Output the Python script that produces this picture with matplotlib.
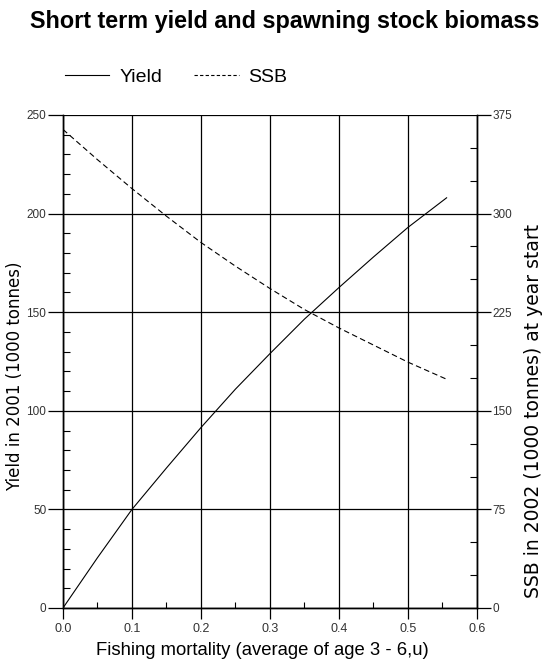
import matplotlib
matplotlib.use("Agg")
import matplotlib.pyplot as plt
from matplotlib.ticker import MultipleLocator
from matplotlib.lines import Line2D

# Fishing mortality (mean F, ages 3-6)
fbar = [0.0, 0.05, 0.10, 0.15, 0.20, 0.25, 0.30, 0.35, 0.40, 0.45, 0.50, 0.556]
# Yield in 2001 (1000 tonnes)
yield_2001 = [0, 25.5, 50, 71, 91.5, 111, 129, 146.5, 162.5, 178, 193, 208]
# SSB in 2002 at year start (1000 tonnes)
ssb_2002 = [364, 341, 319, 298, 278, 260, 243, 227, 213, 200, 187, 174]

x_ticks = [0.0, 0.1, 0.2, 0.3, 0.4, 0.5, 0.6]
yield_ticks = [0, 50, 100, 150, 200, 250]
ssb_ticks = [0, 75, 150, 225, 300, 375]

plt.rcParams["font.family"] = ["Liberation Sans", "DejaVu Sans"]

fig = plt.figure(figsize=(5.42, 6.62), dpi=100)
ax = fig.add_axes([0.1162, 0.0816, 0.7638, 0.7447])
ax2 = ax.twinx()

ax.plot(fbar, yield_2001, color="black", lw=0.8)
ax2.plot(fbar, ssb_2002, color="black", lw=0.8, ls=(0, (5, 3)))

ax.set_xlim(0, 0.6)
ax.set_ylim(0, 250)
ax2.set_ylim(0, 375)

ax.set_xticks(x_ticks)
ax.set_xticklabels([f"{v:.1f}" for v in x_ticks])
ax.set_yticks(yield_ticks)
ax2.set_yticks(ssb_ticks)
ax.xaxis.set_minor_locator(MultipleLocator(0.05))
ax.yaxis.set_minor_locator(MultipleLocator(10))
ax2.yaxis.set_minor_locator(MultipleLocator(25))

ax.grid(True, which="major", color="black", lw=0.9)
ax.set_axisbelow(True)

ax.tick_params(axis="y", which="major", direction="out", length=11, width=0.9,
               labelsize=8.5, pad=1, labelcolor="#333333")
ax.tick_params(axis="y", which="minor", direction="in", length=5, width=0.8)
ax.tick_params(axis="x", which="major", direction="out", length=8, width=0.9,
               labelsize=9, pad=3, labelcolor="#333333")
ax.tick_params(axis="x", which="minor", direction="in", length=4, width=0.8)
ax2.tick_params(axis="y", which="major", direction="out", length=10, width=0.9,
                labelsize=8.5, pad=1, labelcolor="#333333")
ax2.tick_params(axis="y", which="minor", direction="in", length=5, width=0.8)

for a in (ax, ax2):
    for s in a.spines.values():
        s.set_linewidth(1.0)
ax.spines["top"].set_visible(False)
ax2.spines["top"].set_visible(False)

ax.set_xlabel("Fishing mortality (average of age 3 - 6,u)", fontsize=13.3)
ax.xaxis.set_label_coords(0.482, -0.068)
ax.set_ylabel("Yield in 2001 (1000 tonnes)", fontsize=12, family=["DejaVu Sans"])
ax.yaxis.set_label_coords(-0.095, 0.47)
ax2.set_ylabel("SSB in 2002 (1000 tonnes) at year start", fontsize=13.5,
               family=["DejaVu Sans"])
ax2.yaxis.set_label_coords(1.113, 0.40)

fig.text(0.526, 0.968, "Short term yield and spawning stock biomass",
         ha="center", va="center", fontsize=16.8, fontweight="bold")

handles = [Line2D([], [], color="black", lw=0.8),
           Line2D([], [], color="black", lw=0.8, ls=(0, (3, 2)))]
fig.legend(handles, ["Yield", "SSB"], loc="center left",
           bbox_to_anchor=(0.087, 0.884), ncol=2, frameon=False, fontsize=14,
           handlelength=2.3, handletextpad=0.5, columnspacing=1.65)

fig.savefig("out.png", dpi=100)
